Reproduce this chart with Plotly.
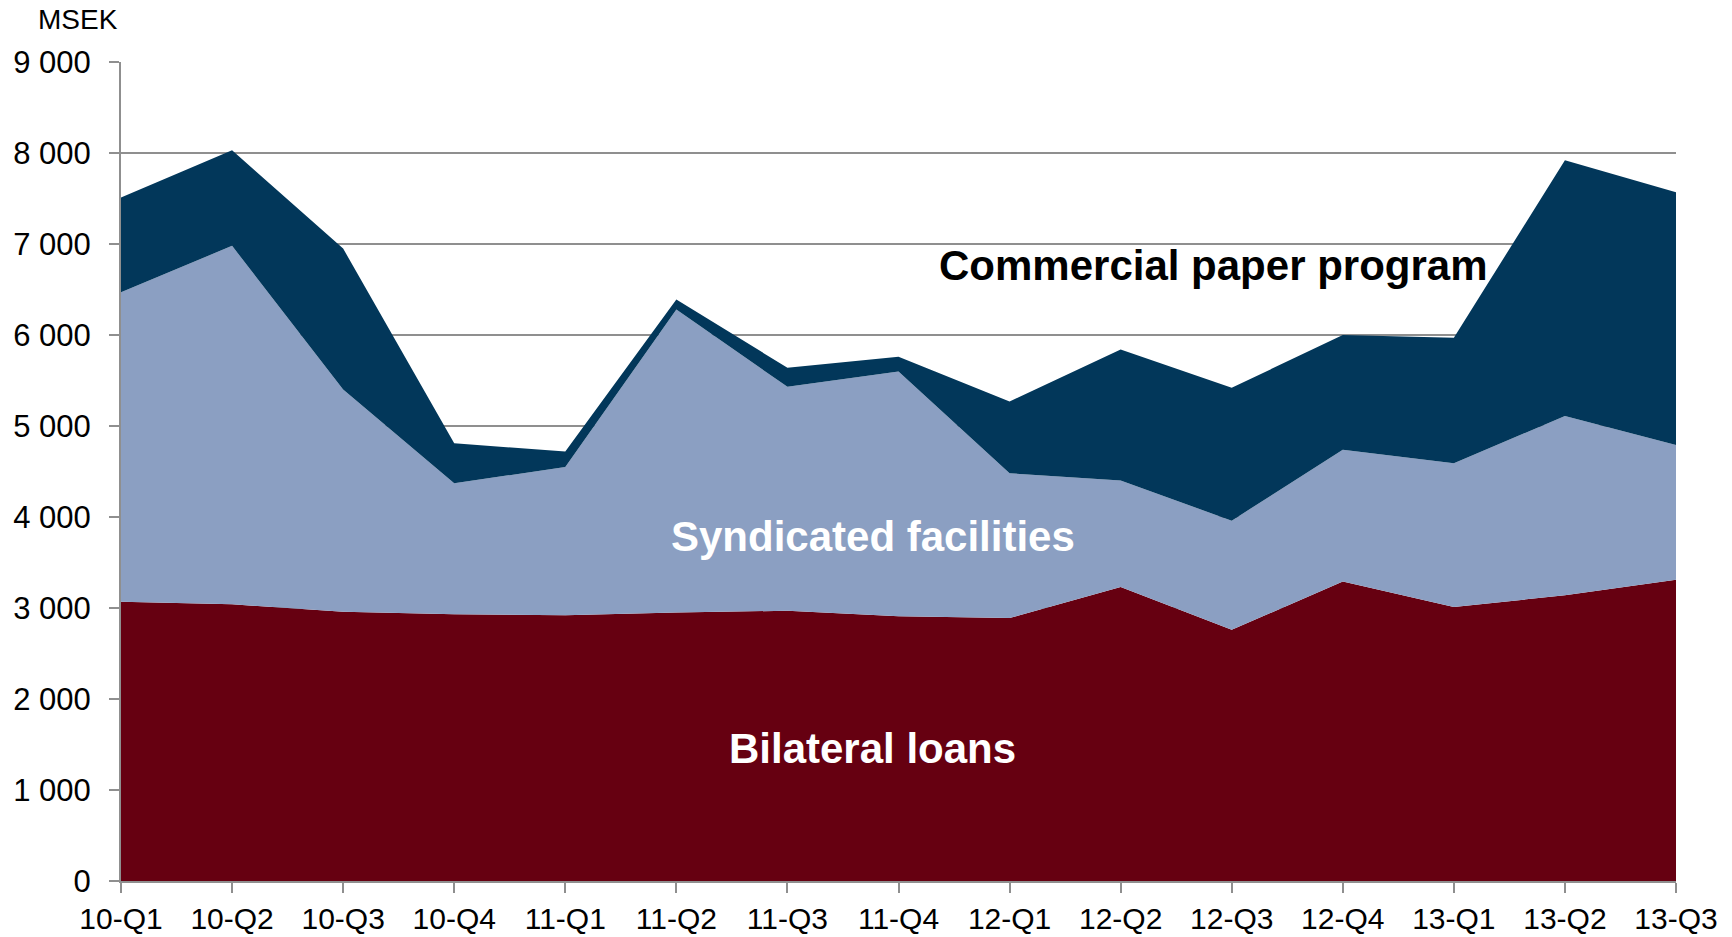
import plotly.graph_objects as go

# Quarterly financing by source, MSEK
quarters = ["10-Q1", "10-Q2", "10-Q3", "10-Q4", "11-Q1", "11-Q2", "11-Q3", "11-Q4",
            "12-Q1", "12-Q2", "12-Q3", "12-Q4", "13-Q1", "13-Q2", "13-Q3"]
bilateral_loans = [3070, 3040, 2960, 2930, 2920, 2950, 2970, 2910,
                   2890, 3230, 2760, 3290, 3010, 3140, 3310]
syndicated_facilities = [3400, 3940, 2440, 1440, 1630, 3330, 2460, 2690,
                         1590, 1170, 1200, 1450, 1580, 1970, 1480]
commercial_paper = [1040, 1050, 1550, 440, 170, 110, 210, 160,
                    790, 1440, 1460, 1260, 1380, 2810, 2780]

y_tickvals = [0, 1000, 2000, 3000, 4000, 5000, 6000, 7000, 8000, 9000]
y_ticktext = ["0", "1 000", "2 000", "3 000", "4 000", "5 000",
              "6 000", "7 000", "8 000", "9 000"]

FONT = "Liberation Sans, Arial, Helvetica, sans-serif"
GRID = "#8f8f8f"

x = list(range(len(quarters)))

fig = go.Figure()
series = [
    ("Bilateral loans", bilateral_loans, "#660011"),
    ("Syndicated facilities", syndicated_facilities, "#8B9FC2"),
    ("Commercial paper program", commercial_paper, "#02375A"),
]
for name, vals, color in series:
    fig.add_trace(go.Scatter(
        x=x, y=vals, name=name, mode="lines",
        line=dict(width=0, color=color),
        fillcolor=color, stackgroup="one",
        hoverinfo="x+y+name",
    ))

# In-area series labels
labels = [
    ("Commercial paper program", 9.834, 6760, "black"),
    ("Syndicated facilities", 6.769, 3791, "white"),
    ("Bilateral loans", 6.765, 1460, "white"),
]
for text, lx, ly, col in labels:
    fig.add_annotation(x=lx, y=ly, xref="x", yref="y", text=f"<b>{text}</b>",
                       showarrow=False, xanchor="center", yanchor="middle",
                       font=dict(family=FONT, size=42, color=col))

# Unit label above the value axis
fig.add_annotation(x=-0.0547, y=1.0513, xref="paper", yref="paper", text="MSEK",
                   showarrow=False, xanchor="left", yanchor="middle",
                   font=dict(family=FONT, size=28, color="black"))

fig.update_layout(
    width=1732, height=937,
    margin=dict(l=121, r=56, t=62, b=56),
    paper_bgcolor="white", plot_bgcolor="white",
    showlegend=False,
    font=dict(family=FONT, size=30, color="black"),
)
fig.update_xaxes(
    range=[0, len(quarters) - 1],
    tickmode="array", tickvals=x, ticktext=quarters,
    showgrid=False, zeroline=False,
    showline=True, linecolor=GRID, linewidth=2,
    ticks="outside", ticklen=10, tickwidth=2, tickcolor=GRID,
    tickfont=dict(family=FONT, size=30, color="black"),
    ticklabelstandoff=0, automargin=False,
)
fig.update_yaxes(
    range=[0, 9000],
    tickmode="array", tickvals=y_tickvals, ticktext=y_ticktext,
    showgrid=True, gridcolor=GRID, gridwidth=1.5,
    zeroline=False,
    showline=True, linecolor=GRID, linewidth=2,
    ticks="outside", ticklen=10, tickwidth=2, tickcolor=GRID,
    tickfont=dict(family=FONT, size=31, color="black"),
    ticklabelstandoff=12, automargin=False,
)

fig.write_html("out.html")
